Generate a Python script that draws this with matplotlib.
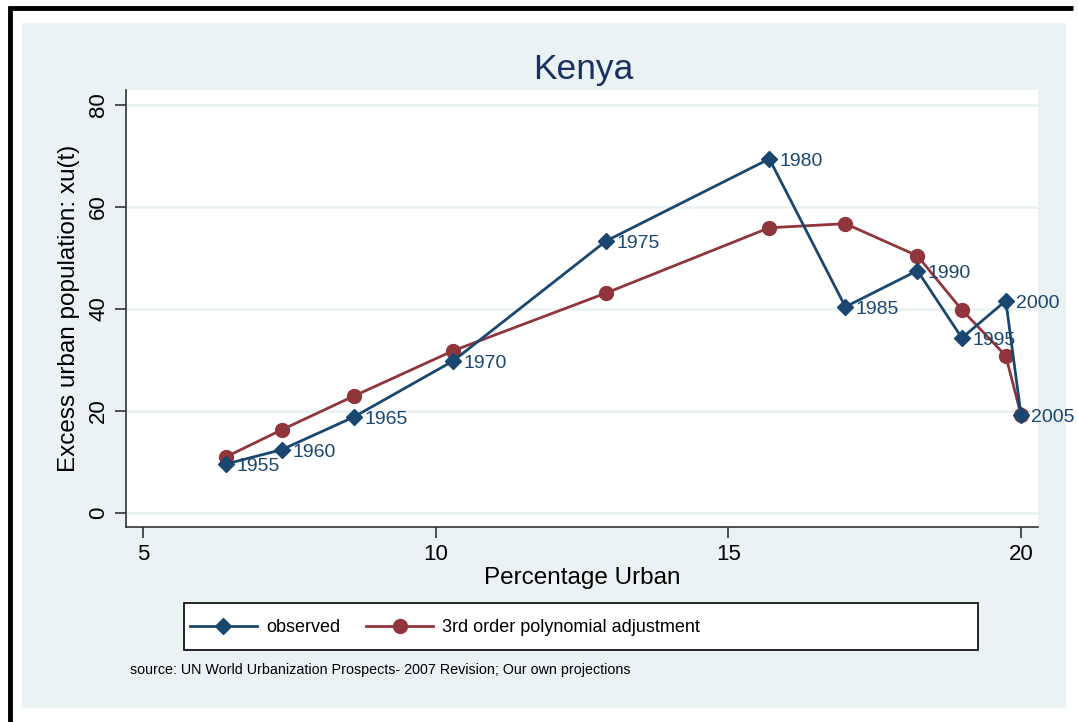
import matplotlib.pyplot as plt
from matplotlib.lines import Line2D
import matplotlib as mpl

mpl.rcParams['font.family'] = ['Liberation Sans', 'DejaVu Sans']

# Datos
years = ['1955', '1960', '1965', '1970', '1975', '1980', '1985', '1990', '1995', '2000', '2005']
pct_urban = [6.42, 7.37, 8.60, 10.30, 12.91, 15.70, 17.00, 18.23, 18.99, 19.74, 20.00]
observed = [9.6, 12.4, 18.8, 29.8, 53.3, 69.4, 40.4, 47.5, 34.3, 41.6, 19.2]
poly_fit = [11.0, 16.3, 22.9, 31.8, 43.1, 55.9, 56.7, 50.4, 39.8, 30.8, 19.2]

blue = '#1a476f'
red = '#90353b'
panel = '#eaf2f3'

W, H = 1078, 722
fig = plt.figure(figsize=(W / 100, H / 100), dpi=100)
fig.patch.set_facecolor('white')

# panel de fondo
fig.add_artist(plt.Rectangle((22 / W, 1 - 708 / H), (1066 - 22) / W, (708 - 23) / H,
                             transform=fig.transFigure, facecolor=panel, edgecolor='none', zorder=-10))
# bordes negros (izquierda y arriba)
fig.add_artist(Line2D([10 / W, 10 / W], [0, 1 - 6 / H], color='black', lw=3.5,
                      solid_capstyle='butt', transform=fig.transFigure))
fig.add_artist(Line2D([8 / W, 1073 / W], [1 - 8 / H, 1 - 8 / H], color='black', lw=3.5,
                      solid_capstyle='butt', transform=fig.transFigure))

ax = fig.add_axes([126 / W, 1 - 527 / H, (1038 - 126) / W, (527 - 90) / H])
ax.set_facecolor('white')

ax.plot(pct_urban, observed, color=blue, lw=2, marker='D', ms=8, mec=blue, mfc=blue,
        label='observed', zorder=3)
ax.plot(pct_urban, poly_fit, color=red, lw=2, marker='o', ms=10, mec=red, mfc=red,
        label='3rd order polynomial adjustment', zorder=2)

for x, y, yr in zip(pct_urban, observed, years):
    ax.annotate(yr, (x, y), xytext=(7.5, -2), textcoords='offset points',
                color=blue, fontsize=14, va='center', ha='left', zorder=4, annotation_clip=False)

ax.set_xlim(4.71, 20.29)
ax.set_ylim(-2.75, 82.9)
ax.set_xticks([5, 10, 15, 20])
ax.set_yticks([0, 20, 40, 60, 80])
ax.grid(axis='y', color=panel, lw=2)
ax.set_axisbelow(True)
for s in ['top', 'right']:
    ax.spines[s].set_visible(False)
for s in ['left', 'bottom']:
    ax.spines[s].set_color('#333333')
    ax.spines[s].set_linewidth(1.2)
ax.tick_params(axis='both', labelsize=16, length=8, width=1.2, color='#333333', pad=4)
plt.setp(ax.get_yticklabels(), rotation=90, va='center')

ax.set_xlabel('Percentage Urban', fontsize=17.5, labelpad=2)
ax.set_ylabel('Excess urban population: xu(t)', fontsize=17.5, labelpad=6)
fig.text(583 / W, 1 - 70 / H, 'Kenya', fontsize=25.5, color='#1a3260', ha='center', va='center')

# caja de la leyenda
fig.add_artist(plt.Rectangle((184 / W, 1 - 650 / H), (978 - 184) / W, (650 - 603) / H,
                             transform=fig.transFigure, facecolor='white', edgecolor='black', lw=1.2))
leg = fig.legend(loc='center left', bbox_to_anchor=(190 / W, 1 - 628 / H), ncol=2,
                 fontsize=13, frameon=False,
                 handlelength=3.7, handletextpad=0.5, columnspacing=1.45,
                 borderpad=0, borderaxespad=0)

fig.text(130 / W, 1 - 670 / H, 'source: UN World Urbanization Prospects- 2007 Revision; Our own projections',
         fontsize=10.3, ha='left', va='center')

fig.savefig('out.png', dpi=100)
